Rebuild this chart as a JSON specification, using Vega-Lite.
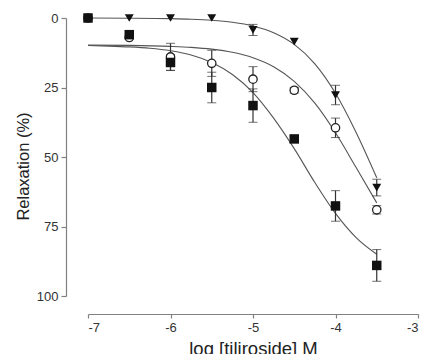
{
  "$schema": "https://vega.github.io/schema/vega-lite/v6.json",
  "autosize": "none",
  "width": 330,
  "height": 278,
  "padding": {"left": 88, "top": 18, "right": 7, "bottom": 58},
  "background": "white",
  "config": {
    "view": {"stroke": null},
    "axis": {
      "grid": false,
      "domainColor": "#808080",
      "tickColor": "#808080",
      "labelColor": "#333333",
      "titleColor": "#222222",
      "labelFont": "Liberation Sans",
      "titleFont": "Liberation Sans",
      "titleFontWeight": "normal",
      "labelFontSize": 13,
      "domainWidth": 1.2,
      "tickWidth": 1.2
    }
  },
  "datasets": {
    "pts": [
      {"series": "tri", "x": -7, "y": 0, "lo": 0, "hi": 0},
      {"series": "tri", "x": -6.5, "y": 0, "lo": 0, "hi": 0},
      {"series": "tri", "x": -6, "y": 0, "lo": 0, "hi": 0},
      {"series": "tri", "x": -5.5, "y": 0, "lo": 0, "hi": 0},
      {"series": "tri", "x": -5, "y": 4.3, "lo": 2.3, "hi": 6.3},
      {"series": "tri", "x": -4.5, "y": 8.5, "lo": 8.5, "hi": 8.5},
      {"series": "tri", "x": -4, "y": 27.7, "lo": 24.2, "hi": 31.2},
      {"series": "tri", "x": -3.5, "y": 61, "lo": 58, "hi": 64},
      {"series": "circ", "x": -7, "y": 0, "lo": 0, "hi": 0},
      {"series": "circ", "x": -6.5, "y": 7, "lo": 7, "hi": 7},
      {"series": "circ", "x": -6, "y": 14, "lo": 9.1, "hi": 18.9},
      {"series": "circ", "x": -5.5, "y": 16.3, "lo": 11.6, "hi": 21},
      {"series": "circ", "x": -5, "y": 22, "lo": 17.5, "hi": 26.5},
      {"series": "circ", "x": -4.5, "y": 26, "lo": 25, "hi": 27},
      {"series": "circ", "x": -4, "y": 39.5, "lo": 36, "hi": 43},
      {"series": "circ", "x": -3.5, "y": 69, "lo": 67.5, "hi": 70.5},
      {"series": "sq", "x": -7, "y": 0, "lo": 0, "hi": 0},
      {"series": "sq", "x": -6.5, "y": 6, "lo": 6, "hi": 6},
      {"series": "sq", "x": -6, "y": 16, "lo": 13.2, "hi": 18.8},
      {"series": "sq", "x": -5.5, "y": 25, "lo": 19.5, "hi": 30.5},
      {"series": "sq", "x": -5, "y": 31.5, "lo": 25.5, "hi": 37.5},
      {"series": "sq", "x": -4.5, "y": 43.5, "lo": 42.5, "hi": 44.5},
      {"series": "sq", "x": -4, "y": 67.6, "lo": 62.1, "hi": 73.1},
      {"series": "sq", "x": -3.5, "y": 89, "lo": 83.3, "hi": 94.7}
    ],
    "curves": [
      {"series": "tri", "x": -7, "y": 0.02},
      {"series": "tri", "x": -6.5, "y": 0.07},
      {"series": "tri", "x": -6, "y": 0.23},
      {"series": "tri", "x": -5.75, "y": 0.44},
      {"series": "tri", "x": -5.5, "y": 0.83},
      {"series": "tri", "x": -5.25, "y": 1.55},
      {"series": "tri", "x": -5, "y": 2.87},
      {"series": "tri", "x": -4.75, "y": 5.28},
      {"series": "tri", "x": -4.5, "y": 9.5},
      {"series": "tri", "x": -4.25, "y": 16.5},
      {"series": "tri", "x": -4, "y": 27.1},
      {"series": "tri", "x": -3.75, "y": 41.2},
      {"series": "tri", "x": -3.5, "y": 57.5},
      {"series": "circ", "x": -7, "y": 9.75},
      {"series": "circ", "x": -6.5, "y": 9.85},
      {"series": "circ", "x": -6, "y": 10.2},
      {"series": "circ", "x": -5.75, "y": 10.55},
      {"series": "circ", "x": -5.5, "y": 11.2},
      {"series": "circ", "x": -5.25, "y": 12.35},
      {"series": "circ", "x": -5, "y": 14.3},
      {"series": "circ", "x": -4.75, "y": 17.55},
      {"series": "circ", "x": -4.5, "y": 22.8},
      {"series": "circ", "x": -4.25, "y": 30.65},
      {"series": "circ", "x": -4, "y": 41.3},
      {"series": "circ", "x": -3.75, "y": 53.8},
      {"series": "circ", "x": -3.5, "y": 66.5},
      {"series": "sq", "x": -7, "y": 9.9},
      {"series": "sq", "x": -6.75, "y": 10.1},
      {"series": "sq", "x": -6.5, "y": 10.4},
      {"series": "sq", "x": -6.25, "y": 10.9},
      {"series": "sq", "x": -6, "y": 11.8},
      {"series": "sq", "x": -5.75, "y": 13.3},
      {"series": "sq", "x": -5.5, "y": 16.0},
      {"series": "sq", "x": -5.25, "y": 20.3},
      {"series": "sq", "x": -5, "y": 26.8},
      {"series": "sq", "x": -4.75, "y": 36.0},
      {"series": "sq", "x": -4.5, "y": 47.0},
      {"series": "sq", "x": -4.25, "y": 59.2},
      {"series": "sq", "x": -4, "y": 70.3},
      {"series": "sq", "x": -3.75, "y": 79.0},
      {"series": "sq", "x": -3.5, "y": 85.0}
    ]
  },
  "encoding": {
    "x": {
      "field": "x",
      "type": "quantitative",
      "scale": {"domain": [-7, -3], "nice": false, "zero": false},
      "axis": {
        "values": [-7, -6, -5, -4, -3],
        "labelExpr": "'' + datum.value",
        "offset": 18,
        "tickSize": 4,
        "labelPadding": 3,
        "title": "log [tiliroside] M",
        "titleFontSize": 18.5,
        "titlePadding": 5
      }
    },
    "y": {
      "field": "y",
      "type": "quantitative",
      "scale": {"domain": [0, 100], "reverse": true, "nice": false, "zero": false},
      "axis": {
        "values": [0, 25, 50, 75, 100],
        "offset": 22,
        "tickSize": 5,
        "labelPadding": 3,
        "title": "Relaxation (%)",
        "titleFontSize": 16.5,
        "titlePadding": 5,
        "titleY": 148
      }
    }
  },
  "layer": [
    {
      "data": {"name": "curves"},
      "mark": {"type": "line", "color": "#555555", "strokeWidth": 1.1, "interpolate": "monotone"},
      "encoding": {"detail": {"field": "series"}}
    },
    {
      "data": {"name": "pts"},
      "transform": [{"filter": "datum.hi > datum.lo"}],
      "mark": {"type": "errorbar", "ticks": {"size": 9, "color": "#333333", "strokeWidth": 1.2}, "rule": {"color": "#333333", "strokeWidth": 1.2}},
      "encoding": {
        "y": {"field": "lo", "type": "quantitative"},
        "y2": {"field": "hi"},
        "detail": {"field": "series"}
      }
    },
    {
      "data": {"name": "pts"},
      "transform": [{"filter": "datum.series == 'tri'"}],
      "mark": {"type": "point", "shape": "triangle-down", "size": 80, "filled": true, "color": "#111111", "opacity": 1}
    },
    {
      "data": {"name": "pts"},
      "transform": [{"filter": "datum.series == 'circ'"}],
      "mark": {"type": "point", "shape": "circle", "size": 70, "filled": false, "fill": "white", "fillOpacity": 1, "stroke": "#222222", "strokeWidth": 1.3, "opacity": 1}
    },
    {
      "data": {"name": "pts"},
      "transform": [{"filter": "datum.series == 'sq'"}],
      "mark": {"type": "point", "shape": "square", "size": 90, "filled": true, "color": "#111111", "opacity": 1}
    }
  ]
}
